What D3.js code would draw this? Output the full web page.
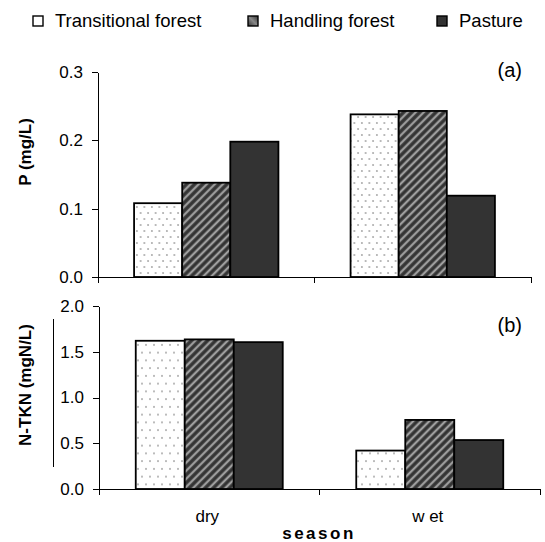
<!DOCTYPE html>
<html lang="en">
<head>
<meta charset="UTF-8">
<title>P and N-TKN by season</title>
<script src="https://d3js.org/d3.v7.min.js"></script>
<style>
    body { margin: 0; background: #fff; }
    svg { display: block; font-family: Arial, "Liberation Sans", sans-serif; }
    .tick text { font-size: 17px; fill: #000; }
    .axis path, .axis line { stroke: #000; stroke-width: 1px; shape-rendering: crispEdges; }
</style>
</head>
<body>
<svg width="545" height="542"></svg>
<script>
// data
const seasons = ["dry", "wet"];
const landUses = ["Transitional forest", "Handling forest", "Pasture"];
const pTransitional = [0.108, 0.238];
const pHandling = [0.138, 0.243];
const pPasture = [0.198, 0.119];
const nTransitional = [1.62, 0.42];
const nHandling = [1.635, 0.755];
const nPasture = [1.605, 0.535];
const pTicks = [0, 0.1, 0.2, 0.3];
const nTicks = [0, 0.5, 1.0, 1.5, 2.0];

const svg = d3.select("svg");
const defs = svg.append("defs");

// dotted fill (Transitional forest)
function dotPattern(id, w, h) {
    const p = defs.append("pattern").attr("id", id)
        .attr("patternUnits", "userSpaceOnUse").attr("width", w).attr("height", h);
    p.append("rect").attr("width", w).attr("height", h).attr("fill", "#fff");
    p.append("circle").attr("cx", w * 0.25).attr("cy", h * 0.25).attr("r", 0.8).attr("fill", "#666");
    p.append("circle").attr("cx", w * 0.75).attr("cy", h * 0.75).attr("r", 0.8).attr("fill", "#666");
}
dotPattern("dotsTop", 7.5, 12);
dotPattern("dotsBottom", 8, 15.5);

// striped fill (Handling forest)
const stripe = defs.append("pattern").attr("id", "stripes")
    .attr("patternUnits", "userSpaceOnUse").attr("width", 5.7).attr("height", 5.7)
    .attr("patternTransform", "rotate(45)");
stripe.append("rect").attr("width", 5.7).attr("height", 5.7).attr("fill", "#333");
stripe.append("line").attr("x1", 2.85).attr("x2", 2.85).attr("y1", 0).attr("y2", 5.7)
    .attr("stroke", "#777").attr("stroke-width", 2.6);
stripe.append("line").attr("x1", 2.85).attr("x2", 2.85).attr("y1", 0).attr("y2", 5.7)
    .attr("stroke", "#b5b5b5").attr("stroke-width", 1.2);

function panel(opts) {
    const g = svg.append("g");
    const x = d3.scaleBand().domain(seasons).range([opts.x0, opts.x1]);
    const y = d3.scaleLinear().domain([0, opts.max]).range([opts.yb, opts.yt]);
    const inner = d3.scaleBand().domain(landUses)
        .range([x.bandwidth() / 6, x.bandwidth() * 5 / 6]);
    const fills = [opts.dots, "url(#stripes)", "#333"];

    const rows = [];
    opts.series.forEach((vals, si) => {
        vals.forEach((v, ci) => rows.push({ season: seasons[ci], use: landUses[si], si, v }));
    });

    g.selectAll("rect.bar").data(rows).join("rect")
        .attr("class", "bar")
        .attr("x", d => x(d.season) + inner(d.use))
        .attr("width", inner.bandwidth())
        .attr("y", d => y(d.v))
        .attr("height", d => y(0) - y(d.v))
        .attr("fill", d => fills[d.si])
        .attr("stroke", "#000").attr("stroke-width", 1.8);

    // y axis
    g.append("g").attr("class", "axis")
        .attr("transform", `translate(${opts.x0},0)`)
        .call(d3.axisLeft(y).tickValues(opts.ticks).tickFormat(d3.format(".1f"))
            .tickSizeInner(6).tickSizeOuter(0).tickPadding(9));

    // x axis with ticks on the category borders
    const xa = g.append("g").attr("class", "axis");
    xa.append("line").attr("x1", opts.x0).attr("x2", opts.x1)
        .attr("y1", y(0)).attr("y2", y(0));
    const edges = seasons.map(s => x(s)).concat([opts.x1]);
    xa.selectAll("line.tk").data(edges).join("line").attr("class", "tk")
        .attr("x1", d => d).attr("x2", d => d)
        .attr("y1", y(0)).attr("y2", y(0) + 6);

    g.append("text")
        .attr("transform", `translate(25,${opts.titleY}) rotate(-90)`)
        .attr("text-anchor", "middle").attr("dominant-baseline", "central")
        .attr("font-weight", "bold").attr("font-size", 17)
        .text(opts.title);

    g.append("text")
        .attr("x", 522).attr("y", opts.tagY)
        .attr("text-anchor", "end").attr("font-size", 20)
        .text(opts.tag);
    return x;
}

panel({
    x0: 98, x1: 531, yb: 277, yt: 72, max: 0.3, ticks: pTicks,
    series: [pTransitional, pHandling, pPasture], dots: "url(#dotsTop)",
    title: "P (mg/L)", titleY: 152, tag: "(a)", tagY: 77
});

const xb = panel({
    x0: 99, x1: 540, yb: 489, yt: 306, max: 2.0, ticks: nTicks,
    series: [nTransitional, nHandling, nPasture], dots: "url(#dotsBottom)",
    title: "N-TKN (mgN/L)", titleY: 385, tag: "(b)", tagY: 332
});

// stray line beside the N-TKN title
svg.append("line").attr("x1", 53.5).attr("x2", 53.5).attr("y1", 319).attr("y2", 467)
    .attr("stroke", "#000").attr("stroke-width", 1);

// category labels
svg.selectAll("text.cat").data(seasons).join("text").attr("class", "cat")
    .attr("x", d => xb(d) + xb.bandwidth() / 2 - 2)
    .attr("y", 522)
    .attr("text-anchor", "middle").attr("font-size", 17)
    .text(d => d === "wet" ? "w et" : d);

svg.append("text")
    .attr("x", 319).attr("y", 539)
    .attr("text-anchor", "middle").attr("font-size", 17).attr("font-weight", "bold")
    .attr("letter-spacing", 2.5)
    .text("season");

// legend
const legendX = [33, 248, 437];
const legendFill = ["#fff", "url(#legendGrad)", "#333"];
const lg = defs.append("linearGradient").attr("id", "legendGrad")
    .attr("x1", 0).attr("y1", 1).attr("x2", 1).attr("y2", 0);
lg.append("stop").attr("offset", 0).attr("stop-color", "#333");
lg.append("stop").attr("offset", 0.5).attr("stop-color", "#888");
lg.append("stop").attr("offset", 1).attr("stop-color", "#333");

const leg = svg.selectAll("g.leg").data(landUses).join("g").attr("class", "leg")
    .attr("transform", (d, i) => `translate(${legendX[i]},16)`);
leg.append("rect").attr("width", 10).attr("height", 10)
    .attr("fill", (d, i) => legendFill[i])
    .attr("stroke", "#000").attr("stroke-width", 1.4);
leg.append("text").attr("x", 22).attr("y", 11)
    .attr("font-size", 18.5)
    .text(d => d);
</script>
</body>
</html>
